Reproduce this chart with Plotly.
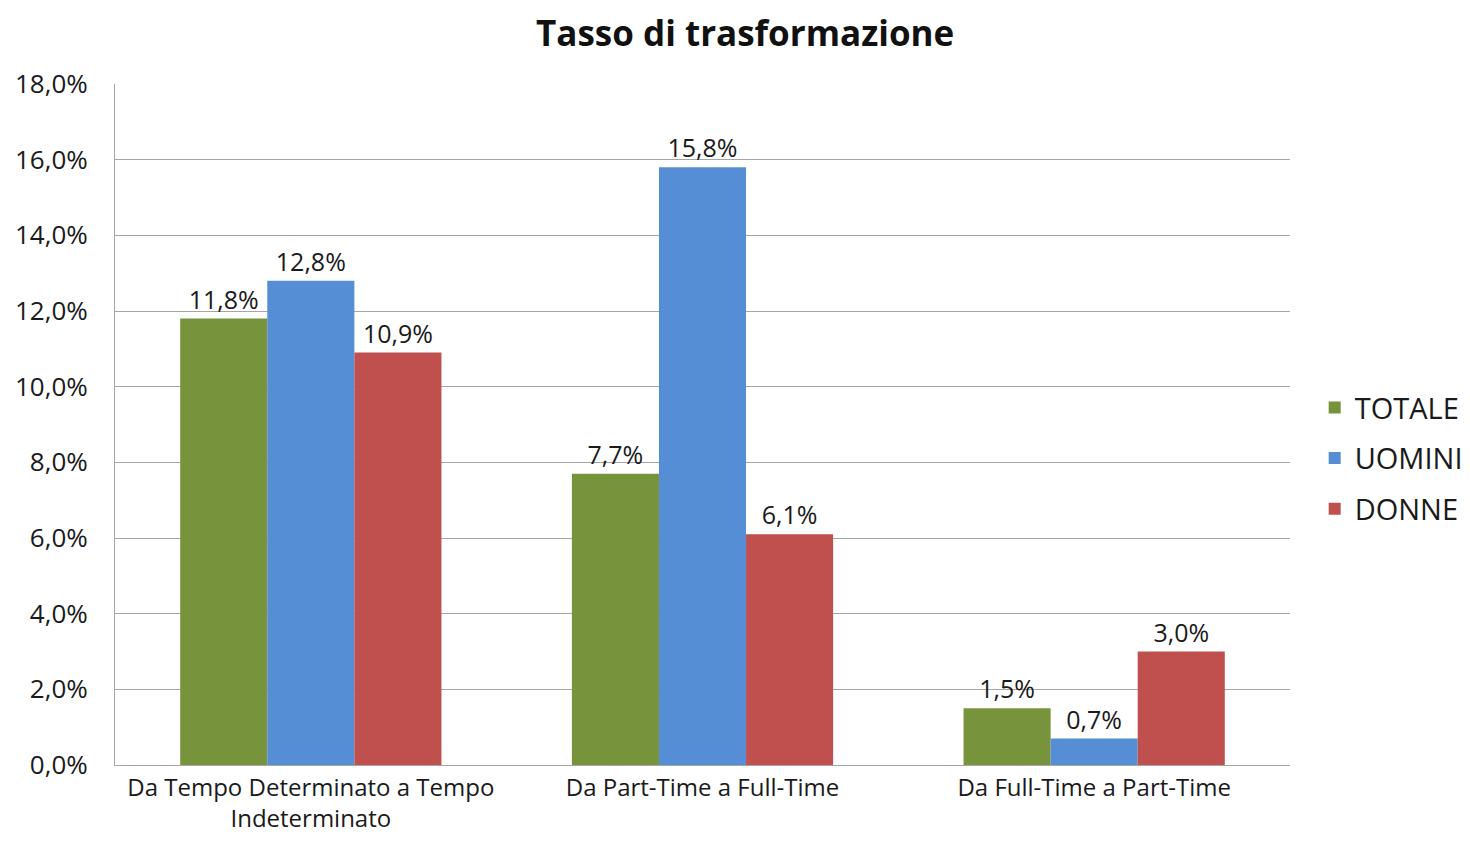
import plotly.graph_objects as go

categories = ["Da Tempo Determinato a Tempo<br>Indeterminato",
              "Da Part-Time a Full-Time",
              "Da Full-Time a Part-Time"]
totale = [11.8, 7.7, 1.5]
uomini = [12.8, 15.8, 0.7]
donne = [10.9, 6.1, 3.0]
y_ticks = [0, 2, 4, 6, 8, 10, 12, 14, 16, 18]
y_labels = ["0,0%", "2,0%", "4,0%", "6,0%", "8,0%", "10,0%", "12,0%", "14,0%", "16,0%", "18,0%"]

series = [("TOTALE", totale, "#77933C"),
          ("UOMINI", uomini, "#558ED5"),
          ("DONNE", donne, "#C0504D")]

font = "Open Sans, Noto Sans, sans-serif"

fig = go.Figure()
for name, vals, col in series:
    fig.add_trace(go.Bar(
        name=name, x=categories, y=vals, legendgroup=name,
        marker=dict(color=col, line=dict(width=0)),
        texttemplate="%{y:.1f}%", textposition="outside",
        textfont=dict(size=25, color="#1a1a1a", family=font),
        cliponaxis=False,
    ))

# page body has an 8px margin, so the figure is 16px smaller than the window
fig.update_layout(
    barmode="group", bargap=0.333, bargroupgap=0,
    separators=",.",
    width=1454, height=828,
    paper_bgcolor="white", plot_bgcolor="white",
    margin=dict(l=107, r=172, t=76, b=71, autoexpand=False),
    font=dict(family=font, size=22, color="#1a1a1a"),
    title=dict(text="<b>Tasso di trasformazione</b>", x=0.507, xanchor="center",
               y=0.969, yanchor="middle", font=dict(size=35, color="#111")),
    legend=dict(x=1.021, xanchor="left", y=0.45, yanchor="middle",
                font=dict(size=29), itemwidth=30, tracegroupgap=10),
    showlegend=True,
)
fig.update_yaxes(range=[0, 18], tickvals=y_ticks, ticktext=y_labels,
                 showgrid=True, gridcolor="#a6a6a6", gridwidth=1,
                 showline=True, linecolor="#a6a6a6", linewidth=1,
                 zeroline=False, ticklabelstandoff=21, automargin=False,
                 tickfont=dict(size=26))
fig.update_xaxes(showline=True, linecolor="#a6a6a6", linewidth=1, mirror=False,
                 ticks="", ticklabelstandoff=1, automargin=False,
                 tickfont=dict(size=24))

fig.write_html("out.html")
